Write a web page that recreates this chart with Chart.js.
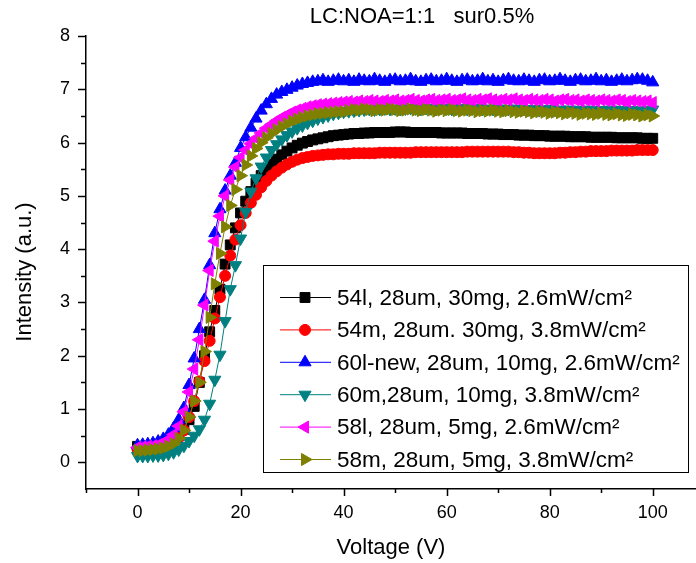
<!DOCTYPE html>
<html>
<head>
<meta charset="utf-8">
<script src="https://cdn.jsdelivr.net/npm/chart.js@4.4.1/dist/chart.umd.min.js"></script>
<style>
  html, body { margin: 0; padding: 0; background: #fff; }
  #wrap { width: 696px; height: 563px; position: relative; }
</style>
</head>
<body>
<div id="wrap"><canvas id="c" width="696" height="563"></canvas></div>
<script>
// ---------------- DATA ----------------
const chartTitle = "LC:NOA=1:1   sur0.5%";
const xTitle = "Voltage (V)";
const yTitle = "Intensity (a.u.)";

const voltage = [
  0,1,2,3,4,5,6,7,8,9,10,11,12,13,14,15,16,17,18,19,20,21,22,23,24,25,26,27,28,29,
  30,31,32,33,34,35,36,37,38,39,40,41,42,43,44,45,46,47,48,49,50,51,52,53,54,55,56,57,58,59,
  60,61,62,63,64,65,66,67,68,69,70,71,72,73,74,75,76,77,78,79,80,81,82,83,84,85,86,87,88,89,
  90,91,92,93,94,95,96,97,98,99,100
];

const seriesLabels = [
  "54l, 28um, 30mg, 2.6mW/cm²",
  "54m, 28um. 30mg, 3.8mW/cm²",
  "60l-new, 28um, 10mg, 2.6mW/cm²",
  "60m,28um, 10mg, 3.8mW/cm²",
  "58l, 28um, 5mg, 2.6mW/cm²",
  "58m, 28um, 5mg, 3.8mW/cm²"
];

const s54l = [
  0.30,0.30,0.30,0.31,0.32,0.34,0.37,0.42,0.50,0.62,
  0.80,1.05,1.50,2.00,2.45,2.85,3.25,3.72,4.08,4.40,
  4.68,4.90,5.08,5.24,5.38,5.50,5.60,5.69,5.77,5.84,
  5.90,5.95,5.99,6.02,6.05,6.07,6.09,6.11,6.13,6.14,
  6.15,6.16,6.17,6.17,6.18,6.18,6.19,6.19,6.19,6.19,
  6.20,6.20,6.20,6.19,6.19,6.19,6.19,6.19,6.19,6.18,
  6.18,6.18,6.18,6.18,6.17,6.17,6.17,6.17,6.16,6.16,
  6.16,6.15,6.15,6.15,6.14,6.14,6.14,6.13,6.13,6.13,
  6.12,6.12,6.12,6.12,6.11,6.11,6.11,6.11,6.10,6.10,
  6.10,6.10,6.10,6.09,6.09,6.09,6.09,6.09,6.08,6.08,6.08
];
const s54m = [
  0.25,0.25,0.26,0.27,0.28,0.30,0.33,0.38,0.46,0.60,
  0.85,1.15,1.52,1.90,2.28,2.70,3.10,3.50,3.88,4.18,
  4.45,4.68,4.87,5.02,5.16,5.28,5.38,5.46,5.53,5.59,
  5.64,5.68,5.71,5.73,5.75,5.76,5.77,5.78,5.78,5.79,
  5.79,5.79,5.80,5.80,5.80,5.80,5.80,5.81,5.81,5.81,
  5.81,5.81,5.81,5.81,5.82,5.82,5.82,5.82,5.82,5.82,
  5.82,5.82,5.82,5.82,5.83,5.83,5.83,5.83,5.83,5.83,
  5.83,5.83,5.83,5.82,5.82,5.81,5.81,5.80,5.80,5.80,
  5.80,5.80,5.81,5.81,5.82,5.82,5.83,5.83,5.84,5.84,
  5.84,5.84,5.85,5.85,5.85,5.85,5.85,5.86,5.86,5.86,5.86
];
const s60l = [
  0.32,0.33,0.34,0.36,0.39,0.44,0.52,0.64,0.80,1.02,
  1.45,1.95,2.50,3.05,3.70,4.30,4.75,5.10,5.38,5.62,
  5.90,6.10,6.28,6.45,6.60,6.72,6.82,6.90,6.95,6.99,
  7.03,7.07,7.10,7.12,7.14,7.15,7.17,7.14,7.16,7.18,
  7.15,7.17,7.14,7.18,7.16,7.15,7.19,7.16,7.14,7.17,
  7.18,7.15,7.16,7.19,7.15,7.14,7.17,7.18,7.15,7.16,
  7.19,7.16,7.14,7.17,7.18,7.15,7.16,7.19,7.15,7.17,
  7.14,7.17,7.19,7.16,7.15,7.18,7.16,7.14,7.17,7.18,
  7.15,7.16,7.19,7.16,7.14,7.17,7.18,7.15,7.16,7.19,
  7.15,7.17,7.14,7.16,7.18,7.15,7.17,7.19,7.18,7.16,7.13
];
const s60m = [
  0.12,0.12,0.12,0.13,0.13,0.14,0.16,0.19,0.24,0.31,
  0.40,0.50,0.62,0.80,1.10,1.55,2.02,2.65,3.25,3.70,
  4.20,4.70,5.08,5.33,5.55,5.72,5.86,5.97,6.06,6.14,
  6.21,6.27,6.32,6.37,6.41,6.45,6.48,6.51,6.54,6.56,
  6.58,6.59,6.60,6.61,6.62,6.63,6.62,6.63,6.64,6.63,
  6.64,6.63,6.64,6.65,6.64,6.63,6.65,6.64,6.63,6.65,
  6.64,6.63,6.64,6.65,6.63,6.64,6.65,6.63,6.64,6.63,
  6.64,6.62,6.63,6.64,6.62,6.63,6.62,6.63,6.61,6.62,
  6.63,6.61,6.62,6.60,6.62,6.61,6.60,6.62,6.61,6.60,
  6.61,6.60,6.62,6.60,6.61,6.59,6.61,6.60,6.59,6.61,6.62
];
const s58l = [
  0.28,0.29,0.30,0.31,0.33,0.37,0.43,0.52,0.68,0.95,
  1.32,1.75,2.30,2.95,3.60,4.15,4.62,5.00,5.30,5.54,
  5.72,5.86,5.98,6.08,6.18,6.27,6.34,6.41,6.47,6.52,
  6.57,6.61,6.64,6.67,6.69,6.71,6.72,6.73,6.74,6.75,
  6.76,6.77,6.76,6.78,6.77,6.79,6.78,6.77,6.79,6.78,
  6.80,6.78,6.79,6.81,6.79,6.78,6.80,6.81,6.79,6.80,
  6.81,6.79,6.80,6.82,6.80,6.79,6.81,6.80,6.82,6.80,
  6.79,6.81,6.80,6.82,6.80,6.79,6.81,6.80,6.79,6.81,
  6.80,6.78,6.80,6.81,6.79,6.80,6.78,6.80,6.79,6.78,
  6.80,6.79,6.78,6.80,6.79,6.77,6.79,6.78,6.77,6.78,6.75
];
const s58m = [
  0.22,0.22,0.23,0.24,0.25,0.27,0.30,0.35,0.45,0.60,
  0.85,1.15,1.50,2.08,2.72,3.35,3.92,4.42,4.82,5.12,
  5.38,5.58,5.75,5.89,6.00,6.09,6.17,6.24,6.30,6.35,
  6.40,6.44,6.47,6.50,6.52,6.54,6.55,6.56,6.57,6.58,
  6.58,6.60,6.62,6.61,6.63,6.62,6.60,6.62,6.61,6.63,
  6.62,6.60,6.61,6.63,6.61,6.60,6.62,6.61,6.59,6.61,
  6.60,6.62,6.60,6.59,6.61,6.60,6.58,6.60,6.59,6.61,
  6.59,6.58,6.60,6.58,6.57,6.59,6.58,6.56,6.58,6.57,
  6.55,6.57,6.56,6.54,6.56,6.55,6.53,6.55,6.54,6.53,
  6.55,6.53,6.52,6.54,6.52,6.51,6.53,6.52,6.50,6.52,6.50
];

const seriesValues = [s54l, s54m, s60l, s60m, s58l, s58m];
const seriesColors = ["#000000", "#FF0000", "#0000FF", "#008080", "#FF00FF", "#808000"];
const seriesMarkers = ["rect", "circle", "triangle", "triangle", "triangle", "triangle"];
const markerRotation = [0, 0, 0, 180, -90, 90];
const markerRadius = [7, 5.5, 7, 7, 7, 7];

const xMajorTicks = [0, 20, 40, 60, 80, 100];
const xMinorTicks = [-10, 10, 30, 50, 70, 90];
const yMajorTicks = [0, 1, 2, 3, 4, 5, 6, 7, 8];
const yMinorTicks = [0.5, 1.5, 2.5, 3.5, 4.5, 5.5, 6.5, 7.5];

// ---------------- CHART ----------------
const FONT = "'Liberation Sans', Arial, sans-serif";

function drawMarker(ctx, style, r, rot, x, y, color) {
  ctx.save();
  ctx.fillStyle = color;
  ctx.strokeStyle = color;
  if (Chart.helpers && Chart.helpers.drawPoint) {
    Chart.helpers.drawPoint(ctx, {pointStyle: style, radius: r, rotation: rot, borderWidth: 1}, x, y);
  }
  ctx.restore();
}

const originDecor = {
  id: 'originDecor',
  afterDraw(chart) {
    const {ctx, scales: {x, y}, chartArea: ca} = chart;
    ctx.save();
    // ticks (outward)
    ctx.strokeStyle = '#000';
    ctx.lineWidth = 1.5;
    ctx.beginPath();
    xMajorTicks.forEach(v => { const px = Math.round(x.getPixelForValue(v)) + 0.5; ctx.moveTo(px, ca.bottom); ctx.lineTo(px, ca.bottom + 7); });
    xMinorTicks.forEach(v => { const px = Math.round(x.getPixelForValue(v)) + 0.5; ctx.moveTo(px, ca.bottom); ctx.lineTo(px, ca.bottom + 4); });
    yMajorTicks.forEach(v => { const py = Math.round(y.getPixelForValue(v)) + 0.5; ctx.moveTo(ca.left, py); ctx.lineTo(ca.left - 8, py); });
    yMinorTicks.forEach(v => { const py = Math.round(y.getPixelForValue(v)) + 0.5; ctx.moveTo(ca.left, py); ctx.lineTo(ca.left - 5, py); });
    ctx.stroke();

    // chart title
    ctx.fillStyle = '#000';
    ctx.font = "22px " + FONT;
    ctx.textAlign = 'center';
    ctx.textBaseline = 'middle';
    ctx.fillText(chartTitle, 422, 17);

    // y axis title
    ctx.save();
    ctx.translate(25, 272);
    ctx.rotate(-Math.PI / 2);
    ctx.fillText(yTitle, 0, 0);
    ctx.restore();

    // legend box
    const bx = 263.5, by = 265.5, bw = 425, bh = 207;
    ctx.fillStyle = '#fff';
    ctx.fillRect(bx, by, bw, bh);
    ctx.strokeStyle = '#000';
    ctx.lineWidth = 1;
    ctx.strokeRect(bx, by, bw, bh);
    ctx.font = "22.5px " + FONT;
    ctx.textAlign = 'left';
    ctx.textBaseline = 'middle';
    seriesLabels.forEach((lab, i) => {
      const ry = 297.5 + i * 32.4;
      ctx.strokeStyle = seriesColors[i];
      ctx.lineWidth = 1;
      ctx.beginPath();
      ctx.moveTo(280, ry); ctx.lineTo(331, ry);
      ctx.stroke();
      drawMarker(ctx, seriesMarkers[i], markerRadius[i], markerRotation[i], 305, ry, seriesColors[i]);
      ctx.fillStyle = '#000';
      ctx.fillText(lab, 337, ry + 1);
    });
    ctx.restore();
  }
};

const datasets = seriesValues.map((vals, i) => ({
  label: seriesLabels[i],
  data: voltage.map((v, k) => ({x: v, y: vals[k]})),
  borderColor: seriesColors[i],
  backgroundColor: seriesColors[i],
  borderWidth: 1,
  pointStyle: seriesMarkers[i],
  pointRotation: markerRotation[i],
  pointRadius: markerRadius[i],
  pointBorderWidth: 1,
  pointBorderColor: seriesColors[i],
  pointBackgroundColor: seriesColors[i],
  tension: 0,
  order: seriesValues.length - i
}));

new Chart(document.getElementById('c'), {
  type: 'line',
  data: { datasets },
  options: {
    responsive: false,
    animation: false,
    events: [],
    layout: { autoPadding: false, padding: { top: 36, left: 0, right: 0, bottom: 0 } },
    plugins: { legend: { display: false }, title: { display: false }, tooltip: { enabled: false } },
    scales: {
      x: {
        type: 'linear',
        min: -10,
        max: 108.4,
        afterBuildTicks: (s) => { s.ticks = xMajorTicks.map(v => ({value: v})); },
        afterFit: (s) => { s.height = 74; s.paddingRight = 0; s.paddingLeft = 0; },
        grid: { display: false, drawTicks: false },
        border: { display: true, color: '#000', width: 1.5 },
        ticks: { color: '#000', padding: 13, maxRotation: 0, autoSkip: false, font: { family: FONT, size: 18 } },
        title: { display: true, text: xTitle, color: '#000', font: { family: FONT, size: 22 }, padding: { top: 0, bottom: 2 } }
      },
      y: {
        type: 'linear',
        min: -0.5,
        max: 8,
        afterBuildTicks: (s) => { s.ticks = yMajorTicks.map(v => ({value: v})); },
        afterFit: (s) => { s.width = 86; s.paddingTop = 0; s.paddingBottom = 0; },
        grid: { display: false, drawTicks: false },
        border: { display: true, color: '#000', width: 1.5 },
        ticks: { color: '#000', padding: 16, autoSkip: false, font: { family: FONT, size: 18 } },
        title: { display: false, text: yTitle }
      }
    }
  },
  plugins: [originDecor]
});
</script>
</body>
</html>
